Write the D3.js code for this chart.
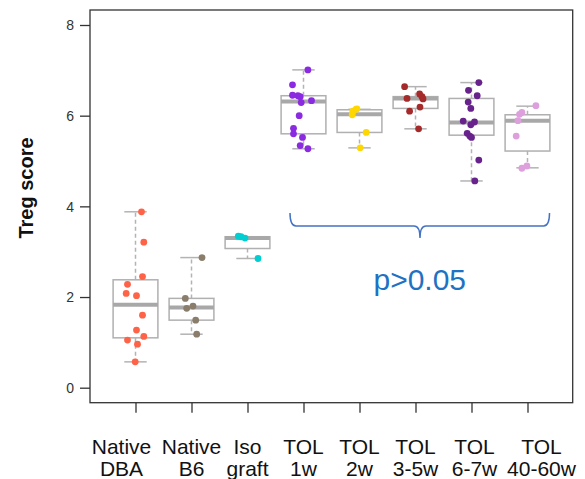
<!DOCTYPE html>
<html><head><meta charset="utf-8">
<script src="https://cdn.jsdelivr.net/npm/d3@7"></script>
<style>body{margin:0;background:#fff;}svg{display:block;}</style>
</head><body>
<script>
const categories = ["Native|DBA","Native|B6","Iso|graft","TOL|1w","TOL|2w","TOL|3-5w","TOL|6-7w","TOL|40-60w"];
const colors = ["#FF6347","#8B7D6B","#00CED1","#8A2BE2","#FFD700","#A52A2A","#68228B","#DDA0DD"];
const yTicks = [0,2,4,6,8];
const q1        = [1.10,1.49,3.07,5.60,5.63,6.16,5.57,5.22];
const medians   = [1.83,1.77,3.30,6.31,6.03,6.38,5.85,5.89];
const q3        = [2.38,1.97,3.33,6.44,6.13,6.42,6.38,6.02];
const whiskerLo = [0.57,1.18,2.85,5.27,5.29,5.71,4.56,4.85];
const whiskerHi = [3.88,2.87,3.33,7.01,6.14,6.64,6.73,6.21];
const groupValues = [
  [3.88,3.21,2.45,2.28,2.08,2.03,1.60,1.27,1.13,1.05,0.96,0.57],
  [2.87,1.97,1.80,1.75,1.49,1.18],
  [3.34,3.33,3.30,2.85],
  [7.01,6.68,6.45,6.44,6.42,6.33,6.29,6.00,5.72,5.60,5.52,5.34,5.27],
  [6.15,6.14,6.10,6.02,5.63,5.29],
  [6.64,6.48,6.42,6.38,6.37,6.19,6.10,5.71],
  [6.73,6.56,6.44,6.30,6.16,5.88,5.86,5.80,5.61,5.55,5.52,5.02,4.56],
  [6.22,6.07,6.03,5.89,5.55,4.89,4.84]
];
// horizontal jitter of each point, in px from the group centre
const groupJitter = [
  [6,8.3,7,-8,-9.3,1,7,1,8.3,-8,2,-0.3],
  [10.5,-6.2,1.5,-4.8,4.2,5.2],
  [-9.2,-6.5,-2.5,10.5],
  [4.4,-11,-11,-5.6,-3.3,8,-2.3,-4.3,-10,-10,-1,-3.3,4.4],
  [-2.6,-3.6,-6.6,-7.3,6.7,0.7],
  [-10.9,4.1,6.5,-8.5,7.5,4.5,-5.9,3.1],
  [7.3,-3,5.7,-3.3,-0.7,-8.3,3,-0.7,-4.3,-1.7,0,7.3,3.3],
  [8.4,-5.6,-8,-9.6,-11.3,-0.6,-5.6]
];
const annotation = "p>0.05";
const yLabel = "Treg score";

const W = 585, H = 479;
const svg = d3.select("body").append("svg").attr("width", W).attr("height", H);
const plot = {left: 90, right: 572.7, top: 10, bottom: 402.7};

const x = d3.scalePoint().domain(categories).range([135.5, 527.5]);
const y = d3.scaleLinear().domain([0, 8]).range([387.7, 25]);
const boxW = x.step() * 0.8;
const capW = boxW / 2;

// axes
const yAxis = d3.axisLeft(y).tickValues(yTicks).tickSize(10).tickPadding(6).tickFormat(d3.format("d"));
const gy = svg.append("g").attr("transform", `translate(${plot.left},0)`).call(yAxis);
gy.select(".domain").remove();
gy.selectAll("line").attr("stroke", "#333").attr("stroke-width", 1.3);
gy.selectAll("text").attr("font-family", "Liberation Sans, Arial, sans-serif").attr("font-size", 14).attr("fill", "#333").attr("dy", "0.35em");

const xAxis = d3.axisBottom(x).tickSize(10).tickFormat("");
const gx = svg.append("g").attr("transform", `translate(0,${plot.bottom})`).call(xAxis);
gx.select(".domain").remove();
gx.selectAll("line").attr("stroke", "#333").attr("stroke-width", 1.3);

// box frame
svg.append("rect").attr("x", plot.left).attr("y", plot.top)
  .attr("width", plot.right - plot.left).attr("height", plot.bottom - plot.top)
  .attr("fill", "none").attr("stroke", "#333").attr("stroke-width", 1.3);

// x labels
const labelShift = {0: -14, 6: 3, 7: 14};
const labG = svg.append("g").attr("font-family", "Liberation Sans, Arial, sans-serif").attr("font-size", 21).attr("fill", "#111").attr("text-anchor", "middle");
categories.forEach((c, i) => {
  const parts = c.split("|");
  const cx = x(c) + (labelShift[i] || 0);
  const t = labG.append("text").attr("x", cx).attr("y", 454);
  t.append("tspan").attr("x", cx).attr("y", 454).text(parts[0]);
  t.append("tspan").attr("x", cx).attr("y", 476).text(parts[1]);
});

// y label
svg.append("text").attr("transform", "translate(33,188) rotate(-90)")
  .attr("text-anchor", "middle").attr("font-family", "Liberation Sans, Arial, sans-serif")
  .attr("font-weight", "bold").attr("font-size", 20).attr("fill", "#111").text(yLabel);

// boxplots
const gb = svg.append("g");
categories.forEach((c, i) => {
  const cx = x(c);
  const g = gb.append("g");
  [[q3[i], whiskerHi[i]], [q1[i], whiskerLo[i]]].forEach(([a, b]) => {
    if (Math.abs(a - b) > 0.001) {
      g.append("line").attr("x1", cx).attr("x2", cx).attr("y1", y(a)).attr("y2", y(b))
        .attr("stroke", "#B3B3B3").attr("stroke-width", 1.5).attr("stroke-dasharray", "4,3");
    }
    g.append("line").attr("x1", cx - capW / 2).attr("x2", cx + capW / 2).attr("y1", y(b)).attr("y2", y(b))
      .attr("stroke", "#B3B3B3").attr("stroke-width", 1.5);
  });
  g.append("rect").attr("x", cx - boxW / 2).attr("y", y(q3[i]))
    .attr("width", boxW).attr("height", y(q1[i]) - y(q3[i]))
    .attr("fill", "#fff").attr("stroke", "#B0B0B0").attr("stroke-width", 1.5);
  g.append("line").attr("x1", cx - boxW / 2).attr("x2", cx + boxW / 2)
    .attr("y1", y(medians[i])).attr("y2", y(medians[i]))
    .attr("stroke", "#A8A8A8").attr("stroke-width", 4);
});

// points
const gp = svg.append("g");
categories.forEach((c, i) => {
  gp.selectAll(null).data(groupValues[i]).join("circle")
    .attr("cx", (d, j) => x(c) + groupJitter[i][j])
    .attr("cy", d => y(d))
    .attr("r", 3.4)
    .attr("fill", colors[i]);
});

// bracket over TOL groups
const bx1 = x(categories[3]) - 13.5, bx2 = x(categories[7]) + 22;
const bmid = (x(categories[5]) + x(categories[6])) / 2 - 23.5;
const by = 226, bTop = 213, bTip = 238;
svg.append("path")
  .attr("d", `M${bx1},${bTop} Q${bx1},${by} ${bx1 + 6},${by} L${bmid - 6},${by} Q${bmid},${by} ${bmid},${bTip} Q${bmid},${by} ${bmid + 6},${by} L${bx2 - 6},${by} Q${bx2},${by} ${bx2},${bTop}`)
  .attr("fill", "none").attr("stroke", "#4472C4").attr("stroke-width", 1.5);

svg.append("text").attr("x", (bx1 + bx2) / 2).attr("y", 290).attr("text-anchor", "middle")
  .attr("font-family", "Liberation Sans, Arial, sans-serif").attr("font-size", 30)
  .attr("fill", "#1F72C3").text(annotation);
</script>
</body></html>
